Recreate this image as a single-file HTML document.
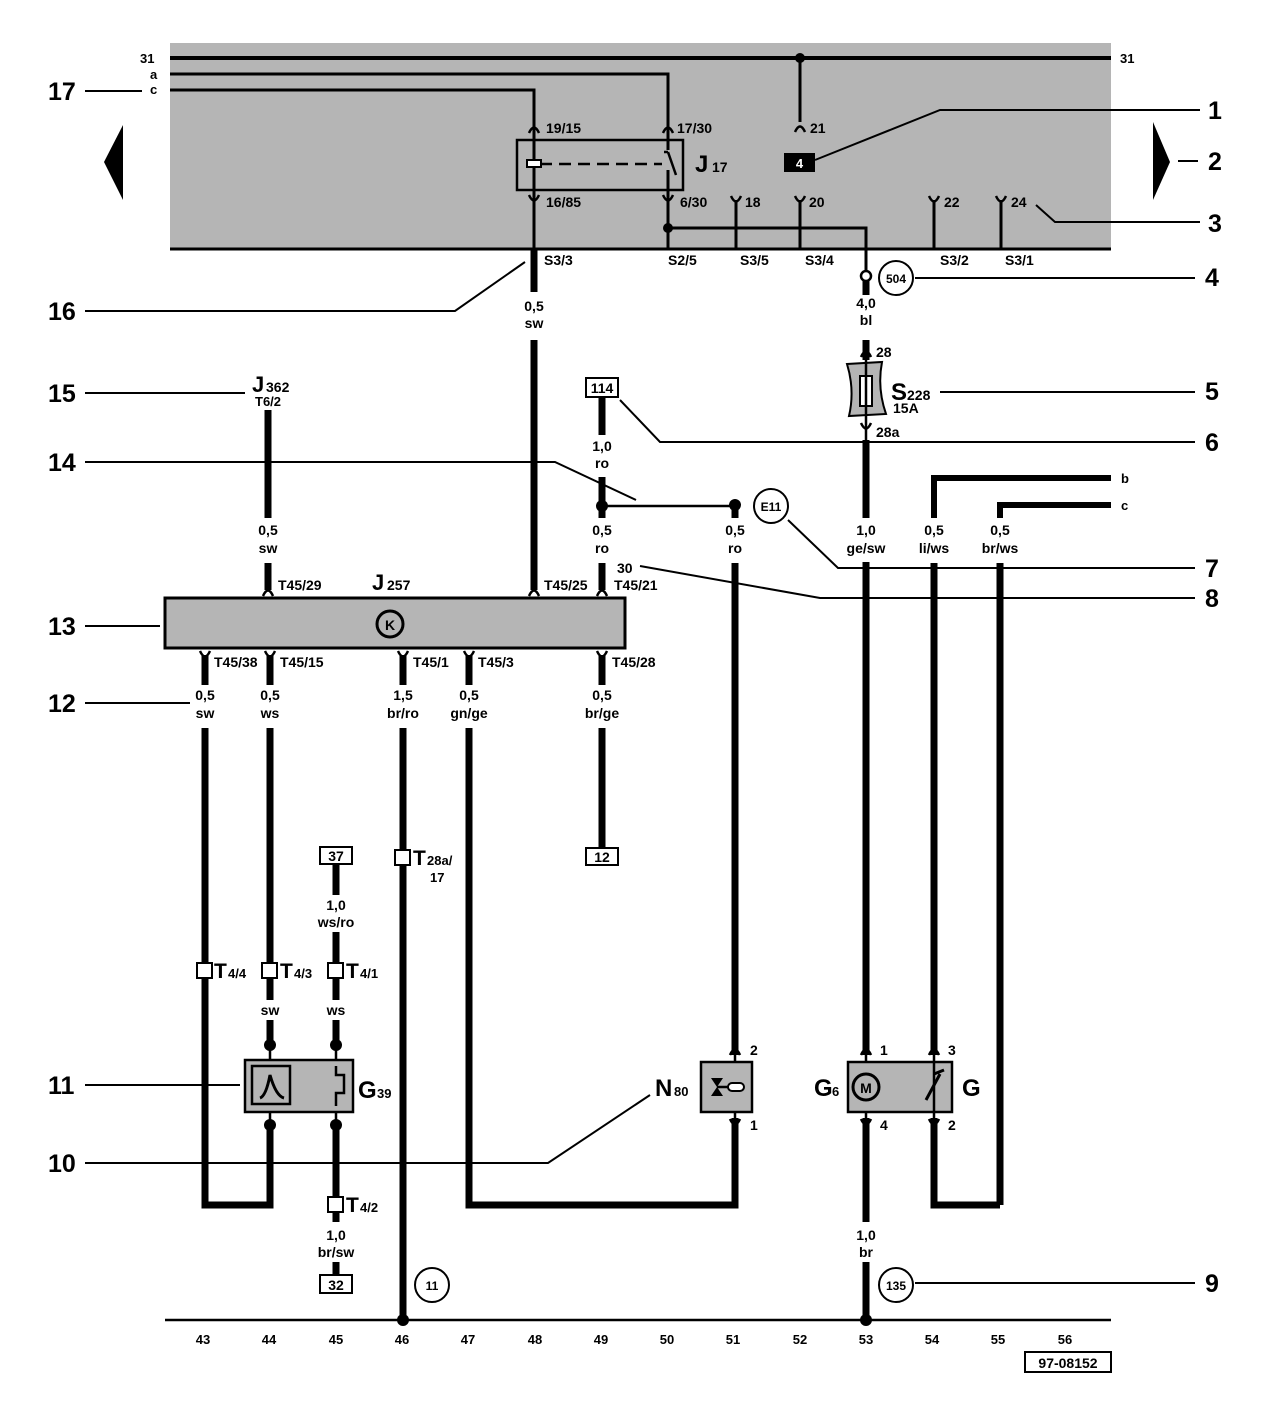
<!DOCTYPE html>
<html><head><meta charset="utf-8"><style>
html,body{margin:0;padding:0;background:#fff}
svg{display:block}
text{font-family:"Liberation Sans",Arial,sans-serif;font-weight:bold;fill:#000}
.s{font-size:13px}
.m{font-size:14px}
.b{font-size:25px}
.c{text-anchor:middle}
</style></head><body>
<svg width="1272" height="1413" viewBox="0 0 1272 1413" xmlns="http://www.w3.org/2000/svg">
<defs>
<path id="cu" d="M-5,5 Q0,-6 5,5" fill="none" stroke="#000" stroke-width="2.5"/>
<path id="cd" d="M-5,-5 Q0,6 5,-5" fill="none" stroke="#000" stroke-width="2.5"/>
</defs>
<rect x="170" y="43" width="941" height="207" fill="#b5b5b5"/>
<g stroke="#000" fill="none">
<line x1="170" y1="58" x2="1111" y2="58" stroke-width="4"/>
<polyline points="170,74 668,74 668,250" stroke-width="3"/>
<polyline points="170,90 534,90 534,250" stroke-width="3"/>
<line x1="170" y1="249" x2="1111" y2="249" stroke-width="3"/>
<line x1="800" y1="58" x2="800" y2="122" stroke-width="3"/>
<line x1="736" y1="200" x2="736" y2="250" stroke-width="3"/>
<line x1="800" y1="200" x2="800" y2="250" stroke-width="3"/>
<line x1="934" y1="200" x2="934" y2="250" stroke-width="3"/>
<line x1="1001" y1="200" x2="1001" y2="250" stroke-width="3"/>
<polyline points="668,228 866,228 866,270" stroke-width="3"/>
<rect x="517" y="140" width="166" height="50" stroke-width="2.5"/>
<line x1="540" y1="164" x2="662" y2="164" stroke-width="2.5" stroke-dasharray="12,7"/>
</g>
<rect x="527" y="160" width="14" height="7" fill="#fff" stroke="#000" stroke-width="2"/>
<rect x="664" y="150" width="8" height="20" fill="#b5b5b5"/>
<polyline points="668,152 676,175" stroke="#000" stroke-width="2.5"/>
<line x1="664" y1="152" x2="668" y2="152" stroke="#000" stroke-width="2.5"/>
<circle cx="800" cy="58" r="5"/>
<circle cx="668" cy="228" r="5"/>
<use href="#cu" x="534" y="128"/><use href="#cu" x="668" y="128"/><use href="#cu" x="800" y="127"/>
<use href="#cd" x="534" y="200"/><use href="#cd" x="668" y="200"/>
<use href="#cd" x="736" y="201"/><use href="#cd" x="800" y="201"/><use href="#cd" x="934" y="201"/><use href="#cd" x="1001" y="201"/>
<rect x="784" y="153" width="31" height="19" fill="#000"/>
<text x="799.5" y="168" class="s c" style="fill:#fff">4</text>
<text x="140" y="63" class="s">31</text><text x="1120" y="63" class="s">31</text>
<text x="150" y="79" class="s">a</text><text x="150" y="94" class="s">c</text>
<text x="546" y="133" class="m">19/15</text><text x="677" y="133" class="m">17/30</text><text x="810" y="133" class="m">21</text>
<text x="546" y="207" class="m">16/85</text><text x="680" y="207" class="m">6/30</text>
<text x="745" y="207" class="m">18</text><text x="809" y="207" class="m">20</text><text x="944" y="207" class="m">22</text><text x="1011" y="207" class="m">24</text>
<text x="695" y="172" style="font-size:24px">J</text><text x="712" y="172" class="m">17</text>
<text x="544" y="265" class="m">S3/3</text><text x="668" y="265" class="m">S2/5</text><text x="740" y="265" class="m">S3/5</text>
<text x="805" y="265" class="m">S3/4</text><text x="940" y="265" class="m">S3/2</text><text x="1005" y="265" class="m">S3/1</text>
<polygon points="123,125 123,200 104,162" fill="#000"/>
<polygon points="1153,122 1153,200 1170,162" fill="#000"/>
<g stroke="#000" stroke-width="2" fill="none">
<line x1="85" y1="91" x2="142" y2="91"/>
<polyline points="815,160 940,110 1200,110"/>
<line x1="1178" y1="161" x2="1198" y2="161"/>
<polyline points="1036,205 1055,222 1200,222"/>
<line x1="915" y1="278" x2="1195" y2="278"/>
<polyline points="85,311 455,311 525,262"/>
<line x1="85" y1="393" x2="245" y2="393"/>
<line x1="940" y1="392" x2="1195" y2="392"/>
<polyline points="620,400 660,442 1195,442"/>
<polyline points="85,462 555,462 636,500"/>
<polyline points="788,520 838,568 1195,568"/>
<polyline points="640,566 820,598 1195,598"/>
<line x1="85" y1="626" x2="160" y2="626"/>
<line x1="85" y1="703" x2="190" y2="703"/>
<line x1="85" y1="1085" x2="240" y2="1085"/>
<polyline points="85,1163 548,1163 650,1095"/>
<line x1="915" y1="1283" x2="1195" y2="1283"/>
<line x1="165" y1="1320" x2="1111" y2="1320" stroke-width="2.5"/>
<line x1="602" y1="506" x2="735" y2="506" stroke-width="2.5"/>
</g>
<g class="b">
<text x="48" y="100">17</text><text x="1208" y="119">1</text><text x="1208" y="170">2</text><text x="1208" y="232">3</text>
<text x="1205" y="286">4</text><text x="48" y="320">16</text><text x="1205" y="400">5</text><text x="48" y="402">15</text>
<text x="1205" y="451">6</text><text x="48" y="471">14</text><text x="1205" y="577">7</text><text x="1205" y="607">8</text>
<text x="48" y="635">13</text><text x="48" y="712">12</text><text x="48" y="1094">11</text><text x="48" y="1172">10</text>
<text x="1205" y="1292">9</text>
</g>
<text x="1121" y="483" class="s">b</text><text x="1121" y="510" class="s">c</text>
<g stroke="#000" stroke-width="7" fill="none">
<line x1="534" y1="250" x2="534" y2="292"/><line x1="534" y1="340" x2="534" y2="590"/>
<line x1="866" y1="280" x2="866" y2="295"/><line x1="866" y1="340" x2="866" y2="360"/>
<line x1="866" y1="440" x2="866" y2="518"/><line x1="866" y1="562" x2="866" y2="1055"/>
<line x1="866" y1="1118" x2="866" y2="1222"/><line x1="866" y1="1262" x2="866" y2="1320"/>
<line x1="602" y1="397" x2="602" y2="435"/><line x1="602" y1="477" x2="602" y2="518"/><line x1="602" y1="563" x2="602" y2="590"/>
<line x1="735" y1="503" x2="735" y2="518"/><line x1="735" y1="563" x2="735" y2="1055"/>
<line x1="268" y1="410" x2="268" y2="518"/><line x1="268" y1="563" x2="268" y2="590"/>
<polyline points="934,518 934,478 1111,478" stroke-width="6"/><line x1="934" y1="563" x2="934" y2="1055"/>
<polyline points="1000,518 1000,505 1111,505" stroke-width="6"/><line x1="1000" y1="563" x2="1000" y2="1205"/>
<polyline points="934,1118 934,1205 1000,1205"/>
<line x1="205" y1="655" x2="205" y2="685"/><line x1="270" y1="655" x2="270" y2="685"/>
<line x1="403" y1="655" x2="403" y2="685"/><line x1="469" y1="655" x2="469" y2="685"/><line x1="602" y1="655" x2="602" y2="685"/>
<polyline points="205,728 205,1205 270,1205 270,1125"/>
<line x1="270" y1="728" x2="270" y2="1000"/><line x1="270" y1="1020" x2="270" y2="1045"/>
<line x1="403" y1="728" x2="403" y2="1320"/>
<polyline points="469,728 469,1205 735,1205 735,1118"/>
<line x1="602" y1="728" x2="602" y2="848"/>
<line x1="336" y1="864" x2="336" y2="895"/><line x1="336" y1="932" x2="336" y2="1000"/><line x1="336" y1="1020" x2="336" y2="1045"/>
<line x1="336" y1="1125" x2="336" y2="1222"/><line x1="336" y1="1262" x2="336" y2="1275"/>
</g>
<g stroke="#000" stroke-width="2.5">
<line x1="270" y1="1045" x2="270" y2="1125"/><line x1="336" y1="1045" x2="336" y2="1125"/>
<line x1="735" y1="1045" x2="735" y2="1125"/><line x1="866" y1="1045" x2="866" y2="1125"/><line x1="934" y1="1045" x2="934" y2="1125"/>
</g>
<circle cx="602" cy="506" r="6"/><circle cx="735" cy="505" r="6"/>
<circle cx="403" cy="1320" r="6"/><circle cx="866" cy="1320" r="6"/>
<circle cx="270" cy="1045" r="6"/><circle cx="336" cy="1045" r="6"/><circle cx="270" cy="1125" r="6"/><circle cx="336" cy="1125" r="6"/>
<circle cx="866" cy="276" r="5" fill="#fff" stroke="#000" stroke-width="2.5"/>
<g class="m c">
<text x="534" y="311">0,5</text><text x="534" y="328">sw</text>
<text x="866" y="308">4,0</text><text x="866" y="325">bl</text>
<text x="602" y="451">1,0</text><text x="602" y="468">ro</text>
<text x="602" y="535">0,5</text><text x="602" y="553">ro</text>
<text x="735" y="535">0,5</text><text x="735" y="553">ro</text>
<text x="268" y="535">0,5</text><text x="268" y="553">sw</text>
<text x="866" y="535">1,0</text><text x="866" y="553">ge/sw</text>
<text x="934" y="535">0,5</text><text x="934" y="553">li/ws</text>
<text x="1000" y="535">0,5</text><text x="1000" y="553">br/ws</text>
<text x="205" y="700">0,5</text><text x="205" y="718">sw</text>
<text x="270" y="700">0,5</text><text x="270" y="718">ws</text>
<text x="403" y="700">1,5</text><text x="403" y="718">br/ro</text>
<text x="469" y="700">0,5</text><text x="469" y="718">gn/ge</text>
<text x="602" y="700">0,5</text><text x="602" y="718">br/ge</text>
<text x="336" y="910">1,0</text><text x="336" y="927">ws/ro</text>
<text x="270" y="1015">sw</text><text x="336" y="1015">ws</text>
<text x="336" y="1240">1,0</text><text x="336" y="1257">br/sw</text>
<text x="866" y="1240">1,0</text><text x="866" y="1257">br</text>
</g>
<g fill="#fff" stroke="#000" stroke-width="2">
<rect x="586" y="378" width="32" height="19"/><rect x="320" y="847" width="32" height="17"/>
<rect x="586" y="848" width="32" height="17"/><rect x="320" y="1275" width="32" height="18"/>
<rect x="1025" y="1352" width="86" height="20"/>
<circle cx="896" cy="278" r="17"/><circle cx="771" cy="506" r="17"/>
<circle cx="432" cy="1285" r="17"/><circle cx="896" cy="1285" r="17"/>
</g>
<g class="m c">
<text x="602" y="393">114</text><text x="336" y="861">37</text><text x="602" y="862">12</text><text x="336" y="1290">32</text>
<text x="1068" y="1368">97-08152</text>
<text x="896" y="283" style="font-size:12px">504</text><text x="771" y="511" style="font-size:12px">E11</text>
<text x="432" y="1290" style="font-size:12px">11</text><text x="896" y="1290" style="font-size:12px">135</text>
</g>
<path d="M847,364 L882,362 Q877,388 886,414 L849,416 Q855,390 847,364Z" fill="#b5b5b5" stroke="#000" stroke-width="2"/>
<rect x="860" y="376" width="12" height="30" fill="#fff" stroke="#000" stroke-width="2"/>
<line x1="866" y1="360" x2="866" y2="440" stroke="#000" stroke-width="2.5"/>
<use href="#cu" x="866" y="352"/><use href="#cd" x="866" y="428"/>
<text x="876" y="357" class="m">28</text><text x="876" y="437" class="m">28a</text>
<text x="891" y="400" style="font-size:24px">S</text><text x="907" y="400" class="m">228</text>
<text x="893" y="413" class="m">15A</text>
<text x="252" y="392" style="font-size:22px">J</text><text x="266" y="392" class="m">362</text>
<text x="255" y="406" class="s">T6/2</text>
<rect x="165" y="598" width="460" height="50" fill="#b5b5b5" stroke="#000" stroke-width="3"/>
<circle cx="390" cy="624" r="13" fill="none" stroke="#000" stroke-width="3"/>
<text x="390" y="630" class="m c">K</text>
<use href="#cu" x="268" y="591"/><use href="#cu" x="534" y="591"/><use href="#cu" x="602" y="591"/>
<use href="#cd" x="205" y="656"/><use href="#cd" x="270" y="656"/><use href="#cd" x="403" y="656"/><use href="#cd" x="469" y="656"/><use href="#cd" x="602" y="656"/>
<text x="278" y="590" class="m">T45/29</text><text x="372" y="590" style="font-size:22px">J</text><text x="387" y="590" class="m">257</text>
<text x="544" y="590" class="m">T45/25</text><text x="614" y="590" class="m">T45/21</text><text x="617" y="573" class="m">30</text>
<text x="214" y="667" class="m">T45/38</text><text x="280" y="667" class="m">T45/15</text><text x="413" y="667" class="m">T45/1</text>
<text x="478" y="667" class="m">T45/3</text><text x="612" y="667" class="m">T45/28</text>
<g fill="#fff" stroke="#000" stroke-width="2">
<rect x="197" y="963" width="15" height="15"/><rect x="262" y="963" width="15" height="15"/><rect x="328" y="963" width="15" height="15"/>
<rect x="395" y="850" width="15" height="15"/><rect x="328" y="1197" width="15" height="15"/>
</g>
<text x="214" y="978" style="font-size:21px">T</text><text x="228" y="978" class="s">4/4</text>
<text x="280" y="978" style="font-size:21px">T</text><text x="294" y="978" class="s">4/3</text>
<text x="346" y="978" style="font-size:21px">T</text><text x="360" y="978" class="s">4/1</text>
<text x="346" y="1212" style="font-size:21px">T</text><text x="360" y="1212" class="s">4/2</text>
<text x="413" y="865" style="font-size:21px">T</text><text x="427" y="865" class="s">28a/</text><text x="430" y="882" class="s">17</text>
<rect x="245" y="1060" width="108" height="52" fill="#b5b5b5" stroke="#000" stroke-width="2.5"/>
<rect x="252" y="1066" width="38" height="38" fill="#b5b5b5" stroke="#000" stroke-width="2.5"/>
<path d="M260,1098 Q266,1096 270,1075 Q276,1096 284,1098" fill="none" stroke="#000" stroke-width="3"/>
<path d="M336,1066 L336,1075 L344,1075 L344,1093 L336,1093 L336,1106" fill="none" stroke="#000" stroke-width="2.5"/>
<text x="358" y="1098" style="font-size:24px">G</text><text x="377" y="1098" class="s">39</text>
<rect x="701" y="1062" width="51" height="50" fill="#b5b5b5" stroke="#000" stroke-width="2.5"/>
<path d="M711,1078 L723,1078 L711,1096 L723,1096 Z" fill="#000"/>
<line x1="717" y1="1087" x2="728" y2="1087" stroke="#000" stroke-width="2.5"/>
<rect x="728" y="1083" width="16" height="8" rx="4" fill="#fff" stroke="#000" stroke-width="2"/>
<use href="#cu" x="735" y="1050"/><use href="#cd" x="735" y="1124"/>
<text x="750" y="1055" class="m">2</text><text x="750" y="1130" class="m">1</text>
<text x="655" y="1096" style="font-size:24px">N</text><text x="674" y="1096" class="s">80</text>
<rect x="848" y="1062" width="104" height="50" fill="#b5b5b5" stroke="#000" stroke-width="2.5"/>
<circle cx="866" cy="1087" r="13" fill="#b5b5b5" stroke="#000" stroke-width="3"/>
<text x="866" y="1093" class="m c">M</text>
<path d="M926,1100 L940,1074 M934,1074 L944,1070" fill="none" stroke="#000" stroke-width="3"/>
<line x1="934" y1="1062" x2="934" y2="1112" stroke="#000" stroke-width="2.5"/>
<use href="#cu" x="866" y="1050"/><use href="#cd" x="866" y="1124"/><use href="#cu" x="934" y="1050"/><use href="#cd" x="934" y="1124"/>
<text x="880" y="1055" class="m">1</text><text x="880" y="1130" class="m">4</text><text x="948" y="1055" class="m">3</text><text x="948" y="1130" class="m">2</text>
<text x="814" y="1096" style="font-size:24px">G</text><text x="832" y="1096" class="s">6</text>
<text x="962" y="1096" style="font-size:24px">G</text>
<g class="s c">
<text x="203" y="1344">43</text><text x="269" y="1344">44</text><text x="336" y="1344">45</text><text x="402" y="1344">46</text>
<text x="468" y="1344">47</text><text x="535" y="1344">48</text><text x="601" y="1344">49</text><text x="667" y="1344">50</text>
<text x="733" y="1344">51</text><text x="800" y="1344">52</text><text x="866" y="1344">53</text><text x="932" y="1344">54</text>
<text x="998" y="1344">55</text><text x="1065" y="1344">56</text>
</g>
</svg>
</body></html>
